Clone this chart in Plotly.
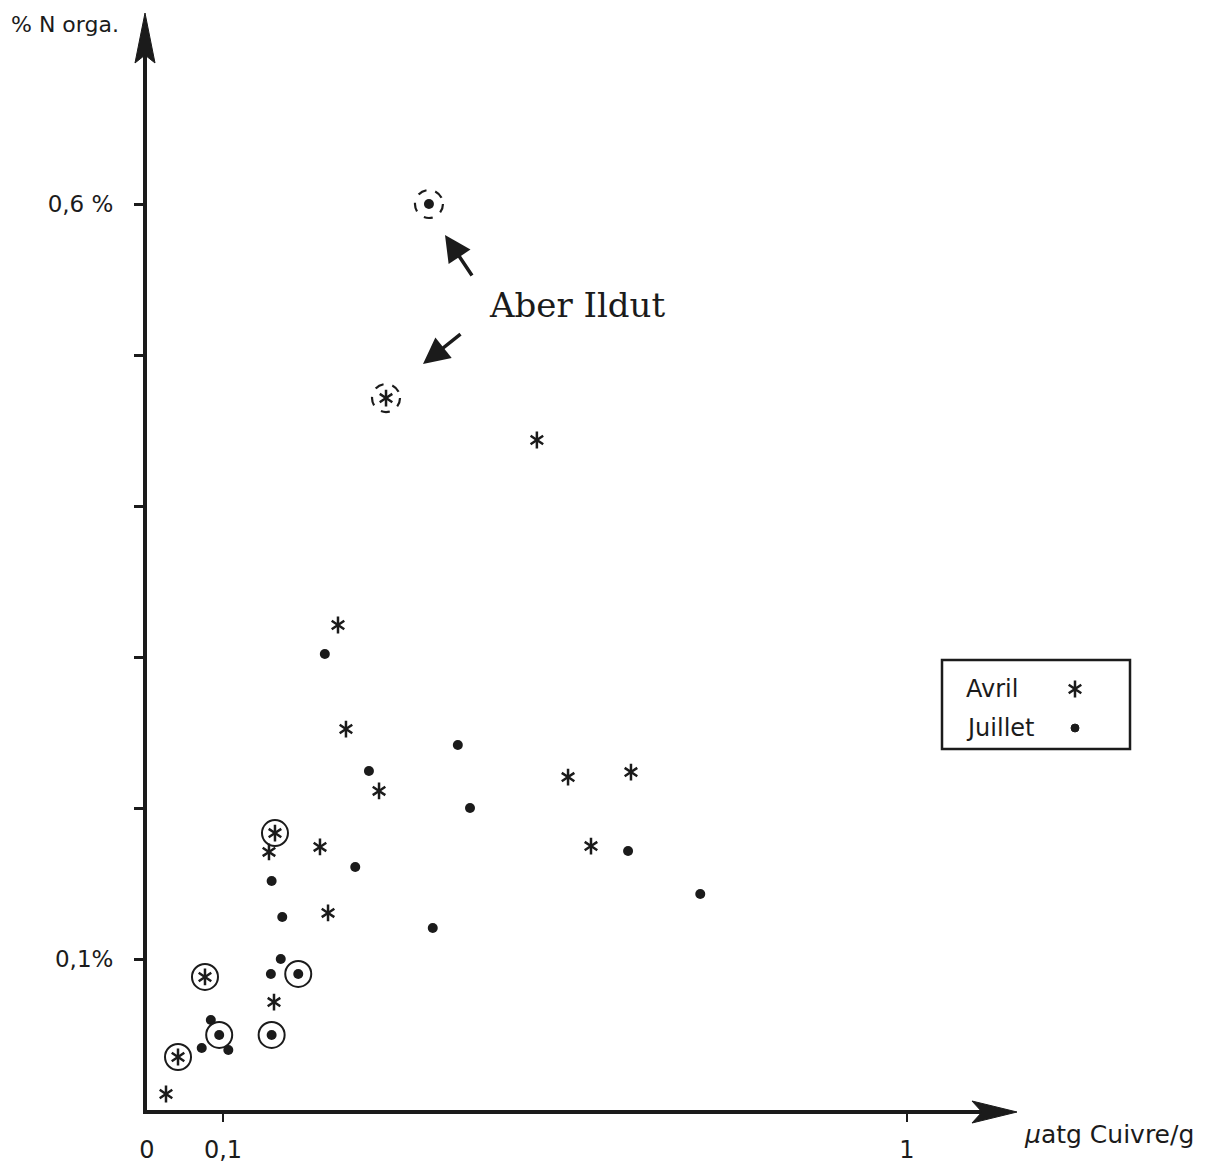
import plotly.graph_objects as go

# ---- data: organic N (%) versus copper content (µatg Cu / g) ----
# April samples (drawn as asterisks)
avril_cu = [0.3145, 0.513, 0.2513, 0.2618, 0.3053, 0.554, 0.6368, 0.5842,
            0.2276, 0.1605, 0.1684, 0.2382, 0.0763, 0.1671, 0.0408, 0.025]
avril_n = [0.4715, 0.4437, 0.3212, 0.2523, 0.2113, 0.2205, 0.2238, 0.1748,
           0.1742, 0.1709, 0.1834, 0.1305, 0.0881, 0.0715, 0.0351, 0.0106]
avril_ringed = [10, 12, 14]      # samples marked with a ring
avril_aber = [0]                 # Aber Ildut sample

# July samples (drawn as dots)
juillet_cu = [0.371, 0.234, 0.409, 0.292, 0.425, 0.633, 0.274, 0.164, 0.178,
              0.376, 0.728, 0.176, 0.163, 0.199, 0.084, 0.095, 0.072, 0.107,
              0.164]
juillet_n = [0.600, 0.302, 0.2417, 0.2245, 0.200, 0.1715, 0.1609, 0.1517,
             0.1278, 0.1205, 0.143, 0.100, 0.0901, 0.0901, 0.0596, 0.0497,
             0.0411, 0.0397, 0.0497]
juillet_ringed = [13, 15, 18]
juillet_aber = [0]

# axis ticks
x_tick_vals = [0, 0.1, 1]
x_tick_text = ["0", "0,1", "1"]
x_tick_marks = [0.1, 1]
y_tick_vals = [0.1, 0.2, 0.3, 0.4, 0.5, 0.6]
y_tick_text = ["0,1%", "", "", "", "", "0,6 %"]

series_names = ["Avril", "Juillet"]

# ---- layout geometry (pixels) ----
W, H = 1214, 1167
AXIS_Y = 1110                        # pixel row of the x axis
ML, MR, MT = 147, 214, 40
MB = H - AXIS_Y
PW, PH = W - ML - MR, H - MT - MB
X_SCALE, Y_SCALE = 760.0, 1510.0     # px per data unit
INK = "#1b1b1b"
SANS = "DejaVu Sans, Verdana, sans-serif"

STAR_SIZE, STAR_W = 10.5, 2.5
DOT_SIZE = 10


def paper_x(px):
    return (px - ML) / PW


def paper_y(py):
    return (AXIS_Y - py) / PH


def data_x(px):
    return (px - ML) / X_SCALE


def data_y(py):
    return (AXIS_Y - py) / Y_SCALE


def pick(vals, idx):
    return [vals[i] for i in idx]


fig = go.Figure()

# April asterisks: two three-armed marks overlaid form a six-armed star
for sym in ("y-up-open", "y-down-open"):
    fig.add_trace(go.Scatter(
        x=avril_cu, y=avril_n, mode="markers", name=series_names[0],
        showlegend=False, cliponaxis=False, hoverinfo="skip",
        marker=dict(symbol=sym, size=STAR_SIZE, color=INK,
                    line=dict(color=INK, width=STAR_W)),
    ))

# July dots
fig.add_trace(go.Scatter(
    x=juillet_cu, y=juillet_n, mode="markers", name=series_names[1],
    showlegend=False, cliponaxis=False,
    marker=dict(symbol="circle", size=DOT_SIZE, color=INK, line=dict(width=0)),
))

# solid rings around selected samples
fig.add_trace(go.Scatter(
    x=pick(avril_cu, avril_ringed) + pick(juillet_cu, juillet_ringed),
    y=pick(avril_n, avril_ringed) + pick(juillet_n, juillet_ringed),
    mode="markers", showlegend=False, cliponaxis=False, hoverinfo="skip",
    marker=dict(symbol="circle-open", size=26, color=INK,
                line=dict(color=INK, width=2)),
))

# dashed rings around the Aber Ildut samples
for xs, ys, idx in ((avril_cu, avril_n, avril_aber),
                    (juillet_cu, juillet_n, juillet_aber)):
    for i in idx:
        fig.add_shape(type="circle", xref="x", yref="y",
                      xsizemode="pixel", ysizemode="pixel",
                      xanchor=xs[i], yanchor=ys[i],
                      x0=-14, x1=14, y0=-14, y1=14,
                      line=dict(color=INK, width=2.2, dash="dash"))

# legend frame, labels and symbols
fig.add_shape(type="rect", xref="paper", yref="paper",
              x0=paper_x(942), x1=paper_x(1130),
              y0=paper_y(749), y1=paper_y(660),
              line=dict(color=INK, width=2.5), fillcolor="rgba(0,0,0,0)")
for name, py in zip(series_names, (689, 728)):
    fig.add_annotation(xref="paper", yref="paper", x=paper_x(964), y=paper_y(py),
                       text=name, showarrow=False, xanchor="left",
                       yanchor="middle",
                       font=dict(family=SANS, size=24, color=INK))

r = STAR_SIZE / 2
star_path = (f"M0,{-1.6 * r} L0,{1.6 * r} "
             f"M{-1.2 * r},{-0.8 * r} L{1.2 * r},{0.8 * r} "
             f"M{-1.2 * r},{0.8 * r} L{1.2 * r},{-0.8 * r}")
fig.add_shape(type="path", xref="paper", yref="paper",
              xsizemode="pixel", ysizemode="pixel",
              xanchor=paper_x(1075), yanchor=paper_y(689),
              path=star_path, line=dict(color=INK, width=STAR_W))
fig.add_shape(type="circle", xref="paper", yref="paper",
              xsizemode="pixel", ysizemode="pixel",
              xanchor=paper_x(1075), yanchor=paper_y(728),
              x0=-4, x1=4, y0=-4, y1=4,
              fillcolor=INK, line=dict(color=INK, width=1))


# arrowheads at the ends of both axes
def arrow_path(tip_px, tip_py, pts):
    segs = []
    for k, (dx, dy) in enumerate([(0, 0)] + pts):
        segs.append(("M" if k == 0 else "L")
                    + f"{paper_x(tip_px + dx):.5f},{paper_y(tip_py + dy):.5f}")
    return " ".join(segs) + " Z"


fig.add_shape(type="path", xref="paper", yref="paper",
              path=arrow_path(145, 13, [(-10, 50), (0, 42), (10, 50)]),
              fillcolor=INK, line=dict(color=INK, width=1))
fig.add_shape(type="path", xref="paper", yref="paper",
              path=arrow_path(1017, 1112, [(-45, -11), (-35, 0), (-45, 11)]),
              fillcolor=INK, line=dict(color=INK, width=1))

# axis titles
fig.add_annotation(xref="paper", yref="paper", x=paper_x(9), y=paper_y(24),
                   text="% N orga.", showarrow=False, xanchor="left",
                   yanchor="middle", font=dict(family=SANS, size=22, color=INK))
fig.add_annotation(xref="paper", yref="paper", x=paper_x(1022), y=paper_y(1134),
                   text="<i>µ</i>atg Cuivre/g", showarrow=False,
                   xanchor="left", yanchor="middle",
                   font=dict(family=SANS, size=25, color=INK))

# Aber Ildut label with its two pointers
fig.add_annotation(x=data_x(577), y=data_y(305), text="Aber Ildut",
                   showarrow=False, xanchor="center", yanchor="middle",
                   font=dict(family="DejaVu Serif, serif", size=34, color=INK))
for tip, tail in (((445, 235), (473, 277)), ((423, 364), (462, 333))):
    fig.add_annotation(x=data_x(tip[0]), y=data_y(tip[1]),
                       ax=data_x(tail[0]), ay=data_y(tail[1]),
                       axref="x", ayref="y", text="", showarrow=True,
                       arrowhead=2, arrowsize=1.5, arrowwidth=3.5,
                       arrowcolor=INK)

fig.update_layout(
    width=W, height=H, autosize=False,
    margin=dict(l=ML, r=MR, t=MT, b=MB, pad=0),
    paper_bgcolor="white", plot_bgcolor="white",
    showlegend=False,
    xaxis=dict(
        range=[0, PW / X_SCALE], showgrid=False, zeroline=False,
        automargin=False,
        showline=True, linewidth=4, linecolor=INK,
        tickmode="array", tickvals=x_tick_vals, ticktext=x_tick_text,
        ticks="", ticklabelstandoff=15,
        tickfont=dict(family=SANS, size=24, color=INK),
        minor=dict(tickmode="array", tickvals=x_tick_marks, ticks="outside",
                   ticklen=8, tickwidth=2, tickcolor=INK, showgrid=False),
    ),
    yaxis=dict(
        range=[0, PH / Y_SCALE], showgrid=False, zeroline=False,
        automargin=False,
        showline=True, linewidth=4, linecolor=INK,
        tickmode="array", tickvals=y_tick_vals, ticktext=y_tick_text,
        ticks="outside", ticklen=9, tickwidth=2.5, tickcolor=INK,
        ticklabelstandoff=16,
        tickfont=dict(family=SANS, size=23, color=INK),
    ),
)

fig.write_html("out.html")
